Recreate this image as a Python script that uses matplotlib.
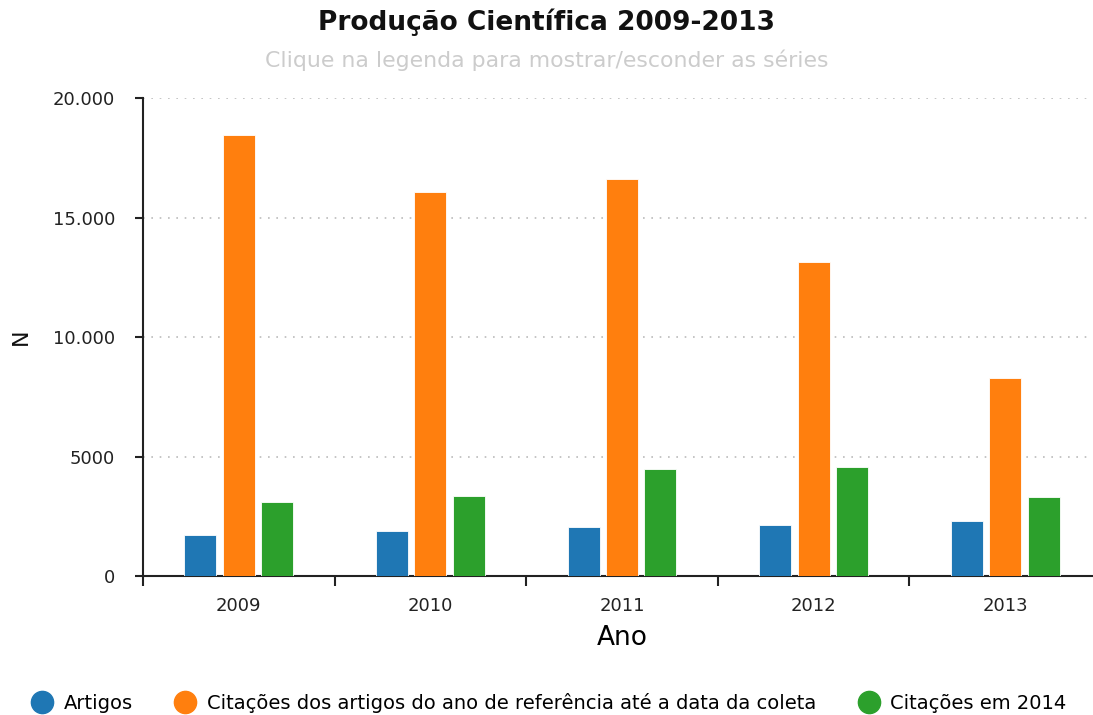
import matplotlib.pyplot as plt
import numpy as np
from matplotlib.ticker import FuncFormatter, FixedLocator
from matplotlib.lines import Line2D

anos = ["2009", "2010", "2011", "2012", "2013"]
artigos = [1720, 1880, 2040, 2120, 2290]
citacoes_ref = [18450, 16070, 16610, 13140, 8290]
citacoes_2014 = [3080, 3350, 4460, 4550, 3310]

series = [
    ("Artigos", artigos, "#1f77b4"),
    ("Citações dos artigos do ano de referência até a data da coleta", citacoes_ref, "#ff7f0e"),
    ("Citações em 2014", citacoes_2014, "#2ca02c"),
]

plt.rcParams["font.family"] = "DejaVu Sans"

fig = plt.figure(figsize=(10.93, 7.15), dpi=100)
W, H = 1093, 715
ax = fig.add_axes([143 / W, 1 - 576 / H, 958 / W, (576 - 98) / H])

x = np.arange(len(anos))
width = 0.167
offsets = [-0.2, 0.0, 0.2]
for (name, vals, color), off in zip(series, offsets):
    ax.bar(x + off, vals, width, color=color, edgecolor="white", linewidth=0.6, zorder=3)

ax.set_xlim(-0.5, 4.5)
ax.set_ylim(0, 20000)
ax.set_yticks([0, 5000, 10000, 15000, 20000])

def fmt(v, pos):
    v = int(round(v))
    if v >= 10000:
        return "{:,}".format(v).replace(",", ".")
    return str(v)

ax.yaxis.set_major_formatter(FuncFormatter(fmt))
ax.set_xticks(x)
ax.set_xticklabels(anos)
ax.xaxis.set_minor_locator(FixedLocator(np.arange(-0.5, 5.0, 1.0)))
ax.tick_params(axis="x", which="major", length=0, pad=15, labelsize=13, colors="#222222")
ax.tick_params(axis="x", which="minor", length=7, width=1.5, color="#222222")
ax.tick_params(axis="y", length=6, width=1.5, labelsize=13, colors="#222222", pad=14)

for s in ["top", "right"]:
    ax.spines[s].set_visible(False)
for s in ["left", "bottom"]:
    ax.spines[s].set_linewidth(1.5)
    ax.spines[s].set_color("#222222")

for v in [5000, 10000, 15000, 20000]:
    ax.axhline(v, color="#bbbbbb", linestyle=(0, (1, 4)), linewidth=1.2, zorder=1)

ax.set_xlabel("Ano", fontsize=19, labelpad=7)
fig.text(21 / W, 1 - 337 / H, "N", rotation=90, ha="center", va="center",
         fontsize=16, color="#111111")

fig.text(0.5, 1 - 22 / H, "Produção Científica 2009-2013", ha="center", va="center",
         fontsize=19, fontweight="bold", color="#111111")
fig.text(0.5, 1 - 60 / H, "Clique na legenda para mostrar/esconder as séries", ha="center",
         va="center", fontsize=15.8, color="#cccccc")

handles = [Line2D([], [], marker="o", linestyle="none", markersize=16,
                  markerfacecolor=c, markeredgecolor=c) for _, _, c in series]
fig.legend(handles, [n for n, _, _ in series], loc="center", bbox_to_anchor=(0.5, 1 - 703 / H),
           ncol=3, frameon=False, fontsize=14, handlelength=1.6, handletextpad=0.3,
           columnspacing=1.9)

fig.savefig("out.png", dpi=100)
